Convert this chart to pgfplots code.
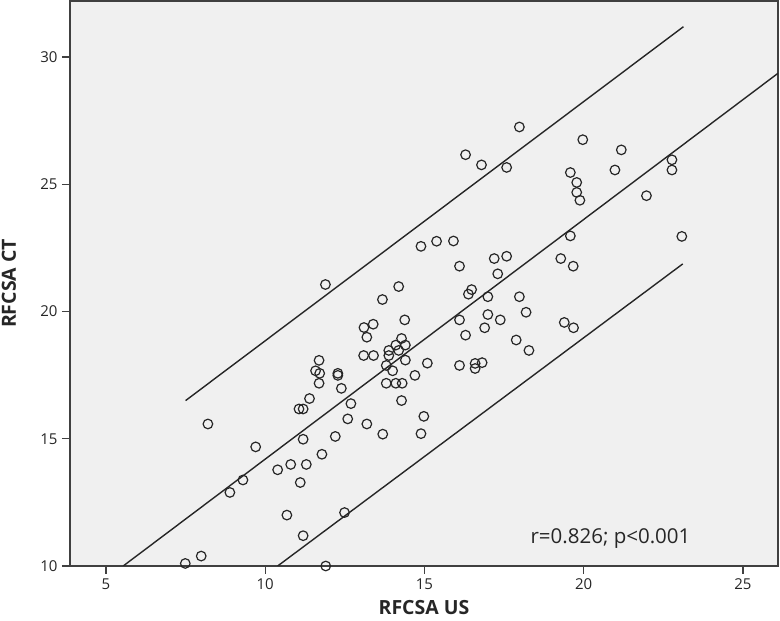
\documentclass[border=0pt]{standalone}
\usepackage{pgfplots}
\pgfplotsset{compat=1.18}
\usepackage{fontspec}
\setmainfont{Open Sans}
\definecolor{bggray}{HTML}{F0F0F0}
\definecolor{framegray}{HTML}{404040}

% RFCSA US vs RFCSA CT
\pgfplotstableread{
x y
7.49 10.10
7.99 10.39
8.20 15.58
8.89 12.89
9.30 13.38
9.70 14.68
10.39 13.78
10.80 13.99
10.68 12.00
11.10 13.28
11.06 16.17
11.19 16.17
11.19 14.98
11.19 11.19
11.29 13.99
11.39 16.58
11.58 17.67
11.69 18.08
11.71 17.57
11.69 17.18
11.78 14.39
11.90 10.00
11.89 21.06
12.20 15.09
12.28 17.57
12.28 17.49
12.39 16.98
12.49 12.10
12.59 15.78
12.69 16.38
13.10 19.37
13.39 19.50
13.19 18.99
13.09 18.27
13.40 18.27
13.19 15.58
13.69 15.18
13.68 20.47
13.80 17.88
13.80 17.18
13.88 18.47
13.88 18.27
14.00 17.67
14.10 17.18
14.30 17.18
14.10 18.68
14.40 18.68
14.19 18.47
14.28 18.94
14.40 18.09
14.19 20.98
14.38 19.67
14.70 17.49
15.09 17.97
14.28 16.50
14.98 15.88
14.89 15.20
14.89 22.56
15.38 22.76
15.91 22.77
16.10 21.78
16.29 26.16
16.79 25.76
17.58 25.66
17.98 27.25
19.97 26.75
19.58 25.46
19.78 25.07
19.78 24.68
19.88 24.37
17.19 22.08
17.58 22.17
17.30 21.48
19.58 22.97
19.28 22.08
19.67 21.78
16.48 20.86
16.38 20.68
16.99 20.58
17.98 20.58
18.19 19.97
16.10 19.67
16.99 19.88
17.38 19.67
16.89 19.36
16.29 19.07
17.88 18.88
19.39 19.57
19.68 19.36
16.10 17.88
16.59 17.96
16.59 17.76
16.81 17.99
18.28 18.47
21.18 26.35
20.98 25.56
22.77 25.96
22.77 25.56
21.97 24.55
23.08 22.95
}\rfcsa

\begin{document}
\begin{tikzpicture}[x=1pt,y=1pt]
\useasboundingbox (0,0) rectangle (780,621);
\begin{axis}[
    at={(70pt,55pt)}, anchor=south west,
    scale only axis, width=708pt, height=565pt,
    xmin=3.87, xmax=26.10, ymin=10, ymax=32.2,
    xtick={5,10,15,20,25}, ytick={10,15,20,25,30},
    axis background/.style={fill=bggray},
    axis line style={draw=framegray, line width=1.5pt},
    tick style={draw=framegray, line width=1.4pt},
    tick align=outside, major tick length=8pt,
    tick pos=left,
    tick label style={font=\fontsize{15}{17}\selectfont, text=black!85},
    /pgf/number format/assume math mode=true,
    xticklabel style={yshift=-1pt},
    yticklabel style={xshift=-1pt},
    xlabel={RFCSA US}, ylabel={RFCSA CT},
    label style={font=\fontsize{19.5}{22}\selectfont\bfseries, text=black!85},
    xlabel style={at={(axis description cs:0.5,-0.0743)}, anchor=center},
    ylabel style={at={(axis description cs:-0.0862,0.5)}, anchor=center},
]
\addplot[only marks, mark=o, mark size=4.8pt,
    mark options={draw=black!85, line width=1.2pt}] table[x=x, y=y] {\rfcsa};
\addplot[black!85, line width=1.4pt] coordinates {(5.54,10) (26.10,29.36)};
\addplot[black!85, line width=1.4pt] coordinates {(7.50,16.50) (23.13,31.19)};
\addplot[black!85, line width=1.4pt] coordinates {(10.39,10) (23.11,21.87)};
\node[font=\fontsize{20.5}{23}\selectfont, text=black!85] at (axis cs:20.84,11.06) {r=0.826; p<0.001};
\end{axis}
\end{tikzpicture}
\end{document}
